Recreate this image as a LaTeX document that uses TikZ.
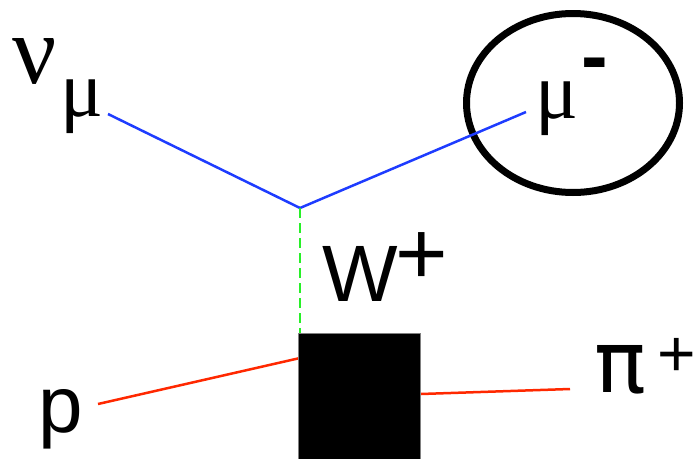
\documentclass[tikz,border=0pt]{standalone}
\usepackage{fontspec}
\setmainfont{Liberation Sans}
\newfontfamily\greekserif{Liberation Serif}
\newfontfamily\greeksans{DejaVu Sans}
\usetikzlibrary{shapes.geometric}
\definecolor{lepblue}{RGB}{30,60,255}
\definecolor{wgreen}{RGB}{40,240,40}
\definecolor{hadred}{RGB}{255,40,0}
\tikzset{
  lbl/.style={inner sep=0pt, anchor=base west, font=\fontsize{80}{90}\selectfont},
  glbl/.style={inner sep=0pt, anchor=base west, font=\fontsize{80}{90}\selectfont\greekserif},
  suplbl/.style={inner sep=0pt, anchor=base west, font=\fontsize{66}{76}\selectfont},
  lepton/.style={lepblue, line width=2.5pt},
  hadron/.style={hadred, line width=2.5pt},
  boson/.style={wgreen, line width=2pt, dash pattern=on 10pt off 5pt}
}

\begin{document}
\begin{tikzpicture}[x=1pt,y=-1pt]
\useasboundingbox (0,0) rectangle (698,458);

% labels
\node[glbl, font=\fontsize{98}{100}\selectfont\greekserif] (nu) at (12,83) {ν};
\node[glbl] (nusub) at (60,116) {μ};
\node[glbl] (mu) at (535,118) {μ};
\node[lbl, font=\fontsize{80}{90}\selectfont\bfseries] (muminus) at (581,83) {-};
\node[lbl] (w) at (322,301) {W};
\node[lbl, font=\fontsize{90}{100}\selectfont] (wplus) at (395,284) {+};
\node[lbl] (p) at (38,432) {p};
\node[lbl, font=\fontsize{86}{96}\selectfont\greeksans] (pi) at (594,392) {π};
\node[suplbl] (piplus) at (657,376) {+};

% muon bubble
\node[draw, ellipse, line width=7pt, minimum width=213pt, minimum height=179pt] (bubble) at (573,103) {};

% vertices and line ends
\coordinate (vtx) at (300,208);
\coordinate (nuend) at (108,114);
\coordinate (muend) at (526,112);
\coordinate (pend) at (98,404);
\coordinate (pin) at (300,358);
\coordinate (piend) at (570,389);

\node[fill=black, draw=gray, line width=0.8pt, inner sep=0pt, anchor=north west,
      minimum width=122pt, minimum height=140pt] (blob) at (298,333) {};
\coordinate (piout) at (blob.east |- 0,394);

\draw[lepton] (nuend) -- (vtx) -- (muend);
\draw[boson] (vtx) -- (vtx |- blob.north);
\draw[hadron] (pend) -- (pin);
\draw[hadron] (piout) -- (piend);
\node[fill=black, draw=gray, line width=0.8pt, inner sep=0pt, anchor=north west,
      minimum width=122pt, minimum height=140pt] at (blob.north west) {};
\end{tikzpicture}
\end{document}
